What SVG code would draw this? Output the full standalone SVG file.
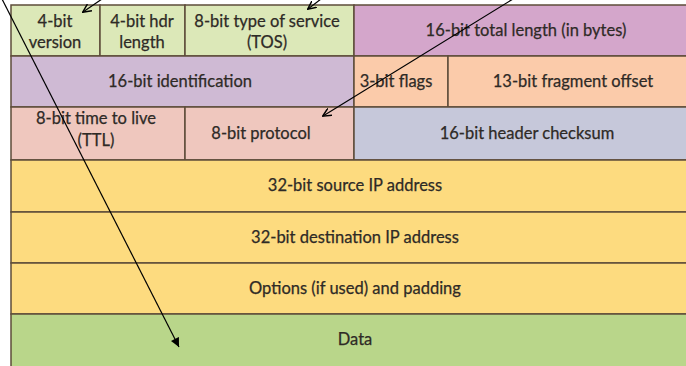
<svg xmlns="http://www.w3.org/2000/svg" width="686" height="366" viewBox="0 0 686 366">
<defs>
<style>
.c{stroke:#5e4c3a;stroke-width:1.5}
.t{font-family:Lato,"Liberation Sans",sans-serif;font-size:16.5px;fill:#2e2a26;stroke:#2e2a26;stroke-width:0.25;text-anchor:middle}
.a{stroke:#000;stroke-width:1.2;fill:none}
</style>
<marker id="open" viewBox="0 0 10 10" refX="9" refY="5" markerWidth="9" markerHeight="9" markerUnits="userSpaceOnUse" orient="auto">
<path d="M0,0.5 L9.5,5 L0,9.5" fill="none" stroke="#000" stroke-width="1.6"/>
</marker>
<marker id="fill" viewBox="0 0 10 10" refX="10" refY="5" markerWidth="10" markerHeight="9" markerUnits="userSpaceOnUse" orient="auto">
<path d="M0,0 L10,5 L0,10 Z" fill="#000"/>
</marker>
</defs>
<rect width="686" height="366" fill="#fff"/>
<g id="version"><rect class="c" x="11" y="5" width="89" height="51" fill="#dce8b8"/><text class="t" x="55" y="27">4-bit</text><text class="t" x="55" y="48">version</text></g>
<g id="hdrlen"><rect class="c" x="100" y="5" width="85" height="51" fill="#dce8b8"/><text class="t" x="142" y="27">4-bit hdr</text><text class="t" x="142" y="48">length</text></g>
<g id="tos"><rect class="c" x="185" y="5" width="169" height="51" fill="#dce8b8"/><text class="t" x="267" y="27">8-bit type of service</text><text class="t" x="267" y="48">(TOS)</text></g>
<g id="totlen"><rect class="c" x="354" y="5" width="345" height="51" fill="#d4a6cb"/><text class="t" x="526" y="36">16-bit total length (in bytes)</text></g>
<g id="ident"><rect class="c" x="11" y="56" width="343" height="51" fill="#cfbad4"/><text class="t" x="180" y="87">16-bit identification</text></g>
<g id="flags"><rect class="c" x="354" y="56" width="94" height="51" fill="#fbcbaa"/><text class="t" x="396" y="87">3-bit flags</text></g>
<g id="frag"><rect class="c" x="448" y="56" width="251" height="51" fill="#fbcbaa"/><text class="t" x="573" y="87">13-bit fragment offset</text></g>
<g id="ttl"><rect class="c" x="11" y="107" width="174" height="53" fill="#efc7be"/><text class="t" x="96" y="124">8-bit time to live</text><text class="t" x="96" y="146">(TTL)</text></g>
<g id="proto"><rect class="c" x="185" y="107" width="169" height="53" fill="#efc7be"/><text class="t" x="261" y="139">8-bit protocol</text></g>
<g id="cksum"><rect class="c" x="354" y="107" width="345" height="53" fill="#c6c8da"/><text class="t" x="527" y="139">16-bit header checksum</text></g>
<g id="src"><rect class="c" x="11" y="160" width="688" height="52" fill="#fddb7f"/><text class="t" x="355" y="191">32-bit source IP address</text></g>
<g id="dst"><rect class="c" x="11" y="212" width="688" height="51" fill="#fddb7f"/><text class="t" x="355" y="243">32-bit destination IP address</text></g>
<g id="opts"><rect class="c" x="11" y="263" width="688" height="51" fill="#fddb7f"/><text class="t" x="355" y="294">Options (if used) and padding</text></g>
<g id="data"><rect class="c" x="11" y="314" width="688" height="60" fill="#b9d68a"/><text class="t" x="355" y="345">Data</text></g>
<g id="connectors">
<line class="a" x1="102" y1="-1" x2="83" y2="12" marker-end="url(#open)"/>
<line class="a" x1="321" y1="-1" x2="308" y2="9" marker-end="url(#open)"/>
<line class="a" x1="513" y1="-1" x2="323" y2="116" marker-end="url(#open)"/>
<line class="a" x1="2" y1="-1" x2="179" y2="347" marker-end="url(#fill)"/>
</g>
</svg>
